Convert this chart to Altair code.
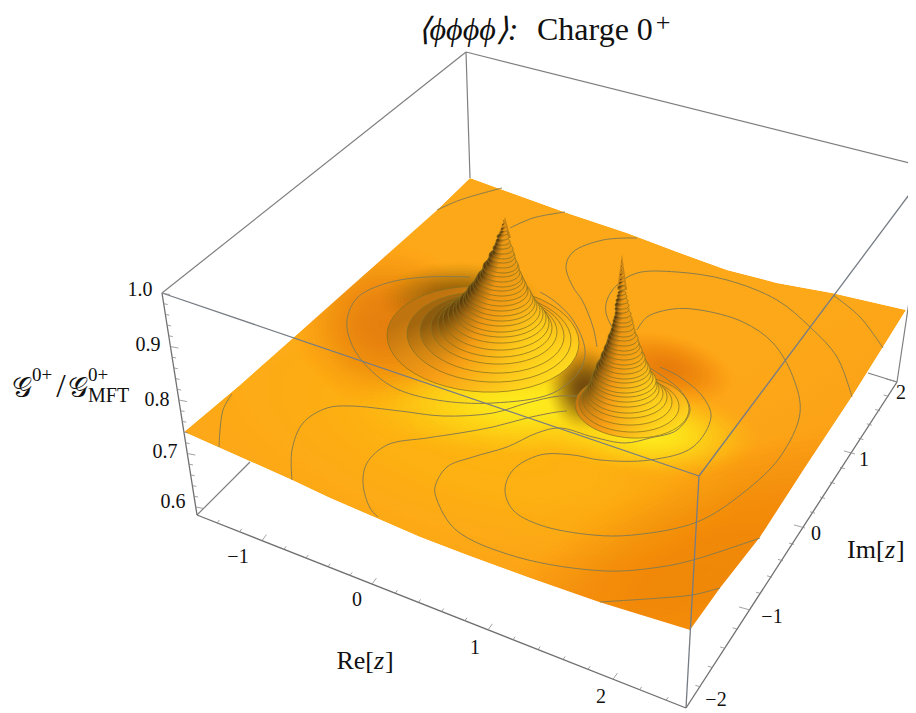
import math
import numpy as np
import altair as alt

SERIF = "Liberation Serif"
X_SCALE = alt.Scale(domain=[8, 908], nice=False, zero=False)
Y_SCALE = alt.Scale(domain=[8, 713], nice=False, zero=False, reverse=True)

# Box corners as they appear in the picture
A, B = (162, 293), (197, 515)
C, C_LOW = (466, 52), (470, 178)
D, E = (699, 476), (686, 708)
F, G = (929, 168), (897, 382)
B_BACK, G_BACK = (250, 462), (868, 373)

# Surface outline
SURF_LEFT_BACK = [(184, 432), (240, 385), (293, 338), (365, 274), (437, 210), (470, 178)]
SURF_BACK_RIGHT = [(470, 178), (567, 213), (627, 233), (680, 253), (727, 270), (777, 283), (832, 293), (906, 310)]
SURF_RIGHT_FRONT = [(906, 310), (883, 347), (853, 395), (806, 466), (760, 537), (720, 588), (690, 630)]
SURF_FRONT_LEFT = [(690, 630), (599, 602), (530, 578), (467, 555), (420, 537), (374, 517), (330, 498), (292, 480), (238, 456), (184, 432)]

# Level curves
CONTOURS = [
    [(232, 394), (223, 410), (219, 447)],
    [(292, 480), (292, 450), (303, 423), (327, 408), (350, 406), (400, 411), (443, 416), (493, 413), (527, 403), (560, 396), (590, 397)],
    [(378, 517), (370, 508), (363, 483), (367, 463), (387, 445), (427, 438), (460, 433), (493, 427), (527, 418), (557, 412), (567, 411)],
    [(760, 538), (693, 560), (660, 567), (606, 571), (517, 557), (456, 530), (437, 500), (435, 487), (447, 467), (473, 457), (507, 447), (537, 433), (560, 428), (593, 437), (625, 443), (650, 438), (677, 430), (690, 410), (680, 390), (650, 368)],
    [(637, 330), (647, 317), (673, 309), (700, 310), (743, 322), (773, 343), (793, 377), (800, 413), (780, 457), (743, 493), (697, 522), (633, 535), (593, 535), (540, 525), (513, 510), (505, 490), (513, 470), (540, 455), (573, 455), (600, 460), (650, 460), (693, 447), (711, 417), (703, 397), (680, 377), (660, 367)],
    [(600, 602), (660, 598), (692, 595), (720, 588)],
    [(437, 210), (460, 200), (502, 188)],
    [(510, 228), (533, 218), (565, 212)],
    [(637, 238), (603, 240), (573, 252), (566, 266), (573, 287), (582, 300), (593, 327), (597, 347)],
    [(612, 327), (606, 313), (607, 300), (617, 285), (637, 273), (677, 272), (727, 280), (777, 300), (810, 327), (837, 357), (852, 397)],
    [(833, 295), (860, 317), (883, 348)],
    [(540, 292), (553, 300), (573, 320), (585, 350), (580, 370), (553, 393), (493, 403), (437, 400), (393, 387), (363, 362), (350, 340), (347, 320), (357, 298), (387, 283), (427, 277), (470, 277)],
]

# Rings stacked on each peak: front edge, half-width, centre
P1_BOTTOM = [392, 382, 373, 364, 357, 350, 343, 337, 332, 326, 321, 316, 311, 306, 301, 296, 291, 287, 282, 277, 273, 268, 263, 259, 254, 249, 245, 240, 235, 231, 226, 221]
P1_HALF = [96, 82, 72, 63, 57, 53, 49, 45, 42, 39, 36, 34, 32, 29, 27, 25, 23, 21, 19, 18, 16, 14, 13, 11, 10, 8, 7, 6, 4, 3, 2, 1]
P1_CENTRE = [483, 489, 492, 494, 495, 496, 497, 498, 498, 498, 499, 499, 499, 499, 500, 500, 500, 501, 501, 501, 502, 502, 502, 503, 503, 503, 503, 503, 504, 504, 504, 504]
P1_SPIKE = [(497, 238), (505, 217), (511, 238)]

P2_BOTTOM = [438, 432, 425, 418, 413, 407, 402, 397, 393, 388, 383, 379, 374, 369, 365, 360, 355, 351, 346, 341, 337, 332, 327, 323, 318, 313, 309, 304, 299, 295, 290, 285, 281, 276, 271, 267, 262]
P2_HALF = [57, 50, 45, 41, 38, 35, 33, 32, 30, 28, 27, 25, 23, 22, 20, 19, 17, 16, 15, 13, 12, 11, 10, 9, 8, 7, 7, 6, 5, 4, 4, 3, 2, 2, 1, 1, 1]
P2_CENTRE = [632, 629, 627, 626, 625, 624, 624, 624, 623, 623, 623, 623, 623, 623, 623, 623, 623, 623, 623, 623, 623, 623, 623, 623, 623, 622, 622, 622, 622, 622, 622, 622, 622, 622, 622, 622, 622]
P2_SPIKE = [(617, 290), (622, 254), (627, 290)]

# Tinted patches on the surface: centre x, centre y, half-width, half-height, tilt, colour, peak opacity
GLOWS = [
    (480, 440, 320, 130, 0.25, "#ffc018", 0.65),
    (700, 570, 260, 120, -0.4, "#f2870a", 0.85),
    (530, 403, 190, 62, 0.0, "#ffea1e", 1.0),
    (650, 434, 115, 46, 0.05, "#ffea1e", 1.0),
    (385, 325, 95, 85, 0.0, "#e67d12", 0.85),
    (460, 298, 85, 38, 0.0, "#7a520e", 0.8),
    (668, 368, 70, 36, 0.2, "#ea7810", 0.8),
    (585, 388, 42, 46, 0.0, "#6e4410", 0.95),
]

Z_LABELS = ["1.0", "0.9", "0.8", "0.7", "0.6"]
Z_LABEL_X = [140, 148, 157, 165, 173]
Z_LABEL_Y = [290, 345, 400, 452, 502]
Z_TICK_VALUES = [1.0, 0.98, 0.96, 0.94, 0.92, 0.90, 0.88, 0.86, 0.84, 0.82, 0.80, 0.78, 0.76, 0.74, 0.72, 0.70, 0.68, 0.66, 0.64, 0.62, 0.60]

RE_POS = [-1.58, -1, 0, 1, 2, 2.55]
RE_X = [197, 262, 372, 488, 613, 686]
RE_TICK_VALUES = [-1.4, -1.2, -1.0, -0.8, -0.6, -0.4, -0.2, 0.0, 0.2, 0.4, 0.6, 0.8, 1.0, 1.2, 1.4, 1.6, 1.8, 2.0, 2.2, 2.4]
RE_LABELS = ["\u22121", "0", "1", "2"]
RE_LABEL_X = [238, 357, 475, 601]
RE_LABEL_Y = [557, 600, 648, 697]

IM_POS = [-2, -1, 0, 1, 2]
IM_X = [688, 750, 805, 855, 897]
IM_Y = [706, 610, 528, 454, 382]
IM_TICK_VALUES = [-1.8, -1.6, -1.4, -1.2, -1.0, -0.8, -0.6, -0.4, -0.2, 0.0, 0.2, 0.4, 0.6, 0.8, 1.0, 1.2, 1.4, 1.6, 1.8, 2.0]
IM_LABELS = ["2", "1", "0", "\u22121", "\u22122"]
IM_LABEL_X = [901, 864, 816, 772, 716]
IM_LABEL_Y = [393, 460, 534, 617, 700]


def ring_list(points):
    ring = [list(p) for p in points]
    if ring[0] != ring[-1]:
        ring.append(ring[0])
    return ring


def feature(*rings_, **props):
    return {"type": "Feature", "properties": props,
            "geometry": {"type": "Polygon", "coordinates": [ring_list(r) for r in rings_]}}


def shapes(features, **mark):
    return alt.Chart(alt.Data(values=features)).mark_geoshape(**mark).project(
        type="identity", scale=1, translate=[-8, -8])


def poly(points, **mark):
    return shapes([feature(points)], **mark)


def ellipse(cx, cy, rx, ry, tilt=0.0, n=48):
    out = []
    for i in range(n):
        a = 2 * math.pi * i / n
        x = rx * math.cos(a)
        y = ry * math.sin(a) + tilt * x
        out.append((round(cx + x, 2), round(cy + y, 2)))
    return out


def lerp(c1, c2, t):
    a = [int(c1[i:i + 2], 16) for i in (1, 3, 5)]
    b = [int(c2[i:i + 2], 16) for i in (1, 3, 5)]
    return "#%02x%02x%02x" % tuple(round(x + (y - x) * t) for x, y in zip(a, b))


def keyed(keys, t):
    for (t0, c0), (t1, c1) in zip(keys, keys[1:]):
        if t <= t1:
            return lerp(c0, c1, (t - t0) / (t1 - t0))
    return keys[-1][1]


DARK = [(0, "#c0740f"), (0.06, "#8e5c0e"), (0.15, "#6e480c"), (0.35, "#5a3a0c"), (1, "#5e3c0c")]
MID = [(0, "#f89e16"), (0.12, "#f49c14"), (0.35, "#ee9412"), (1, "#f09a14")]
LIGHT = [(0, "#ffdc1e"), (0.2, "#ffd41c"), (0.42, "#f8a816"), (1, "#d58e14")]


def rings(bottoms, halves, centres, ratio=0.55):
    out = []
    n = len(bottoms)
    for i, (b, w, c) in enumerate(zip(bottoms, halves, centres)):
        t = i / (n - 1)
        dark, mid, light = keyed(DARK, t), keyed(MID, t), keyed(LIGHT, t)
        grad = alt.Gradient(
            gradient="linear", x1=0.0, y1=0.25 + 0.2 * t, x2=0.95 - 0.15 * (1 - t), y2=0.95,
            stops=[
                alt.GradientStop(color=dark, offset=0.0),
                alt.GradientStop(color=dark, offset=0.1),
                alt.GradientStop(color=lerp(dark, mid, 0.55), offset=0.32),
                alt.GradientStop(color=mid, offset=0.55),
                alt.GradientStop(color=light, offset=1.0),
            ],
        )
        ry = ratio * w
        mark = {"fill": grad, "strokeWidth": 0}
        if w > 3:
            mark = {"fill": grad, "stroke": "#86701f", "strokeWidth": 0.75}
        out.append(poly(ellipse(c, b - ry, w, ry, 0.04), **mark))
    return out


def lines(segments, color, width, interpolate="linear", opacity=1.0):
    rows = []
    for k, seg in enumerate(segments):
        for j, (x, y) in enumerate(seg):
            rows.append({"x": x, "y": y, "k": k, "j": j})
    return alt.Chart(alt.Data(values=rows)).mark_line(
        color=color, strokeWidth=width, interpolate=interpolate, opacity=opacity, clip=False
    ).encode(
        x=alt.X("x:Q", scale=X_SCALE, axis=None),
        y=alt.Y("y:Q", scale=Y_SCALE, axis=None),
        detail="k:N",
        order="j:Q",
    )


def text(items, size, style="normal", font=SERIF, align="center"):
    rows = [{"x": x, "y": y, "t": t} for x, y, t in items]
    return alt.Chart(alt.Data(values=rows)).mark_text(
        fontSize=size, font=font, fontStyle=style, align=align, baseline="middle", color="#111111"
    ).encode(
        x=alt.X("x:Q", scale=X_SCALE, axis=None),
        y=alt.Y("y:Q", scale=Y_SCALE, axis=None),
        text="t:N",
    )


# Axis ticks
z_ticks = []
for v in Z_TICK_VALUES:
    f = (1.0 - v) / 0.415
    px, py = A[0] + (B[0] - A[0]) * f, A[1] + (B[1] - A[1]) * f
    L = 8 if round(v * 100) % 10 == 0 else 4
    z_ticks.append([(px, py), (px + L, py + L * 0.2)])

re_ticks = []
for v in RE_TICK_VALUES:
    px = float(np.interp(v, RE_POS, RE_X))
    py = B[1] + (E[1] - B[1]) * (px - B[0]) / (E[0] - B[0])
    L = 8 if round(v * 10) % 10 == 0 else 4
    re_ticks.append([(px, py), (px + L * 0.55, py - L * 0.75)])

im_ticks = []
for v in IM_TICK_VALUES:
    px = float(np.interp(v, IM_POS, IM_X))
    py = float(np.interp(v, IM_POS, IM_Y))
    L = 11 if round(v * 10) % 10 == 0 else 5
    im_ticks.append([(px, py), (px - L, py - L * 0.28)])

surface_outline = SURF_LEFT_BACK + SURF_BACK_RIGHT[1:] + SURF_RIGHT_FRONT[1:] + SURF_FRONT_LEFT[1:]
surface_fill = alt.Gradient(
    gradient="linear", x1=0.1, y1=0.2, x2=0.8, y2=0.95,
    stops=[
        alt.GradientStop(color="#fda818", offset=0.0),
        alt.GradientStop(color="#fda818", offset=0.6),
        alt.GradientStop(color="#fa9c18", offset=1.0),
    ],
)

layers = [poly(surface_outline, fill=surface_fill, strokeWidth=0)]

STEPS = 24
for gx, gy, grx, gry, tilt, col, op in GLOWS:
    nested = []
    before = 0.0
    for k in range(STEPS, 0, -1):
        x = (k - 0.5) / STEPS
        target = min(0.985, op * (1 - x * x) ** 2)
        alpha = 1 - (1 - target) / (1 - before)
        before = target
        nested.append(feature(ellipse(gx, gy, grx * k / STEPS, gry * k / STEPS, tilt), a=round(alpha, 5)))
    layers.append(
        shapes(nested, fill=col, strokeWidth=0).encode(
            fillOpacity=alt.FillOpacity("properties.a:Q", scale=None)
        )
    )

# Everything outside the surface goes back to the white page
layers.append(shapes(
    [feature([(0, 0), (0, 720), (930, 720), (930, 0)], surface_outline)],
    fill="#ffffff", strokeWidth=0))
layers.append(lines([[A, C], [C, F], [C, C_LOW], [B, B_BACK], [G, G_BACK], [G, F]], "#7f7f7f", 1.2))
layers.append(lines(CONTOURS, "#8a7c4c", 1.0, "catmull-rom"))
layers.append(poly(P1_SPIKE, fill="#c98416", strokeWidth=0))
layers += rings(P1_BOTTOM, P1_HALF, P1_CENTRE)
layers.append(poly(P2_SPIKE, fill="#c98416", strokeWidth=0))
layers += rings(P2_BOTTOM, P2_HALF, P2_CENTRE)
layers += [
    lines([[A, D], [D, E], [D, F]], "#767c84", 1.3),
    lines([[A, B], [B, E], [E, G]], "#6f6f6f", 1.3),
    lines(z_ticks + re_ticks + im_ticks, "#8a8a8a", 0.8),
    text([(468, 30, "\u27e8\u03d5\u03d5\u03d5\u03d5\u27e9:")], 32, style="italic", align="center"),
    text([(537, 30, "Charge 0")], 32, align="left"),
    text([(663, 23, "+")], 26),
    text([(x, y, t) for x, y, t in zip(Z_LABEL_X, Z_LABEL_Y, Z_LABELS)], 20),
    text([(x, y, t) for x, y, t in zip(RE_LABEL_X, RE_LABEL_Y, RE_LABELS)], 20),
    text([(x, y, t) for x, y, t in zip(IM_LABEL_X, IM_LABEL_Y, IM_LABELS)], 20),
    text([(374, 661, "Re[")], 26, align="right"),
    text([(374, 661, "z")], 26, style="italic", align="left"),
    text([(385, 661, "]")], 26, align="left"),
    text([(847, 550, "Im[")], 26, align="left"),
    text([(885, 550, "z")], 26, style="italic", align="left"),
    text([(896, 550, "]")], 26, align="left"),
    text([(12, 389, "\U0001d4a2")], 28, align="left"),
    text([(32, 375, "0+")], 19, align="left"),
    text([(61, 387, "/")], 34),
    text([(68, 389, "\U0001d4a2")], 28, align="left"),
    text([(88, 375, "0+")], 19, align="left"),
    text([(88, 396, "MFT")], 20, align="left"),
]

chart = alt.layer(*layers).properties(
    width=900, height=705, padding=0, autosize=alt.AutoSizeParams(type="none")
).configure_view(stroke=None)

chart.save("out.html", embed_options={"renderer": "svg", "actions": False})
